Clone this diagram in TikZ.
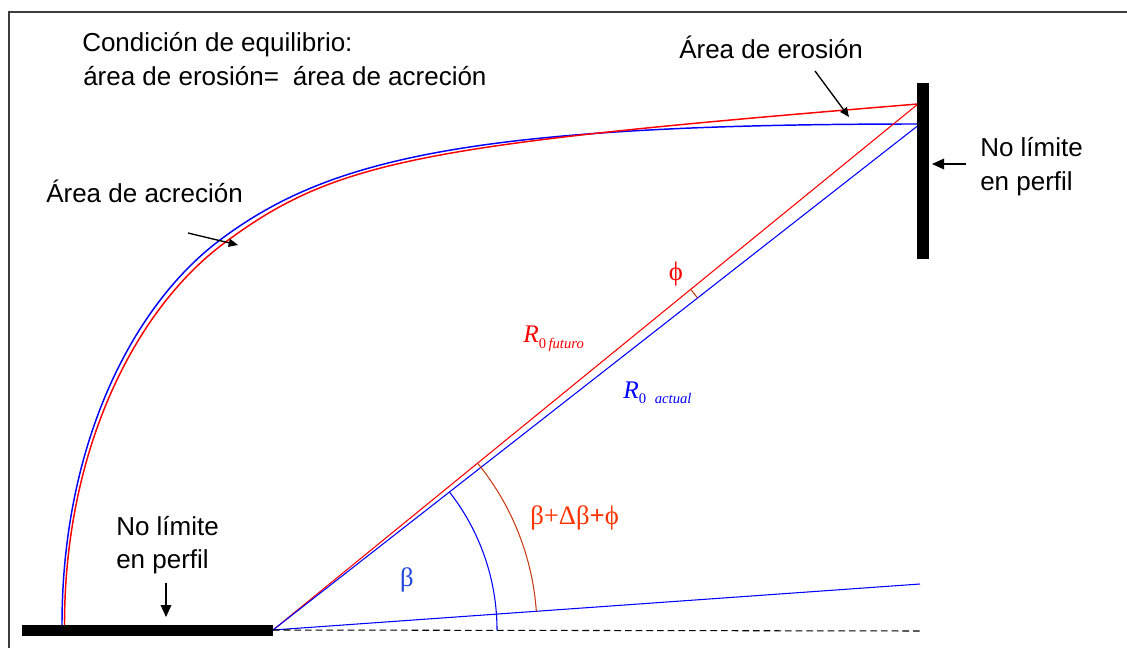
\documentclass[tikz,border=0pt]{standalone}
\usepackage{fontspec}
\setmainfont{Liberation Sans}
\newfontfamily\grk{Liberation Serif}
\usetikzlibrary{arrows.meta}
\definecolor{arcred}{RGB}{200,60,20}
\definecolor{lblred}{RGB}{255,50,0}
\definecolor{bblue}{RGB}{30,70,220}
\definecolor{framecol}{RGB}{60,60,60}
\begin{document}
\begin{tikzpicture}[x=0.75pt,y=-0.75pt,
  lbl/.style={font=\fontsize{19.5}{25.5}\selectfont, inner sep=0, anchor=base west},
  grklbl/.style={font=\grk\fontsize{20}{20}\selectfont, inner sep=0},
  bigarrow/.style={line width=1pt, -{Triangle[length=9pt,width=8pt]}},
  smallarrow/.style={line width=1pt, -{Triangle[length=7pt,width=6pt]}},
  bluecurve/.style={blue, line width=1.1pt},
  redcurve/.style={red, line width=1.1pt},
  radius/.style={line width=0.8pt},
  dashline/.style={black, line width=0.8pt, dash pattern=on 5pt off 3pt},
  bar/.style={fill=black, draw=none}]
\useasboundingbox (0,0) rectangle (1127,648);
% frame
\draw[framecol, line width=1.1pt] (9,648) -- (9,12) -- (1127,12);

% key points
\coordinate (O) at (273,630);
\coordinate (Bt) at (920,124);
\coordinate (Rt) at (918,104);
\coordinate (Bs) at (920,584);
\coordinate (D) at (922,631);
\coordinate (Bb) at (62,625);
\coordinate (Bm) at (220,240);
\coordinate (Rb) at (64.5,625);
\coordinate (Rm) at (223,244);

% shoreline curves
\draw[bluecurve] (Bb) .. controls (62,445) and (132,306) .. (Bm)
  .. controls (328,159) and (470,124) .. (Bt);
\draw[redcurve] (Rb) .. controls (64.5,447) and (136.6,308.8) .. (Rm)
  .. controls (335,160) and (420,144.8) .. (Rt);

% radii and base lines
\draw[radius, red] (O) -- (Rt);
\draw[radius, blue] (O) -- (Bt);
\draw[radius, blue] (O) -- (Bs);
\draw[dashline] (O) -- (D);

% angle arcs
\draw[blue, line width=0.8pt] plot[domain=0:38.03, samples=40] ({273+224*cos(\x)}, {630-224*sin(\x)});
\draw[arcred, line width=0.8pt] plot[domain=4.07:39.2, samples=40] ({273+264*cos(\x)}, {630-264*sin(\x)});
\draw[arcred, line width=0.8pt] plot[domain=38.03:39.2, samples=5] ({273+539*cos(\x)}, {630-539*sin(\x)});

% bars
\fill[bar] (22,625) rectangle (273,636);
\fill[bar] (917,83) rectangle (929,259);

% texts
\node[lbl] (c1) at (82,52) {Condición de equilibrio:};
\node[lbl] (c2) at (83,86) {área de erosión=\hspace{0.25em} área de acreción};
\node[lbl] (ero) at (679,59) {Área de erosión};
\node[lbl] (nl1) at (980,157) {No límite};
\node[lbl] (nl2) at (980,191) {en perfil};
\node[lbl] (acr) at (46,203) {Área de acreción};
\node[lbl] (bl1) at (116,535) {No límite};
\node[lbl] (bl2) at (116,568) {en perfil};

% greek labels
\node[grklbl, red] (phi) at (676,274) {ϕ};
\node[grklbl, bblue] (beta) at (407,580) {β};
\node[grklbl, lblred, anchor=base west] (bdb) at (530,524) {β+Δβ\textbf{+}ϕ};
\node[red, inner sep=0, anchor=base west] (rf) at (523,343)
  {\grk\fontsize{19}{19}\selectfont\textit{R}\raisebox{-0.45ex}{\fontsize{11}{11}\selectfont 0\,\textit{futuro}}};
\node[blue, inner sep=0, anchor=base west] (ra) at (623,398)
  {\grk\fontsize{19}{19}\selectfont\textit{R}\raisebox{-0.45ex}{\fontsize{11}{11}\selectfont 0\hspace{0.6em}\textit{actual}}};

% arrows
\coordinate (a1s) at (815,71);
\coordinate (a1e) at (849,117);
\draw[smallarrow] (a1s) -- (a1e);
\coordinate (a2s) at (966,164);
\coordinate (a2e) at (932,164);
\draw[bigarrow] (a2s) -- (a2e);
\coordinate (a3s) at (188,233);
\coordinate (a3e) at (238,245);
\draw[smallarrow] (a3s) -- (a3e);
\coordinate (a4s) at (166,583);
\coordinate (a4e) at (166,617);
\draw[bigarrow] (a4s) -- (a4e);
\end{tikzpicture}
\end{document}
